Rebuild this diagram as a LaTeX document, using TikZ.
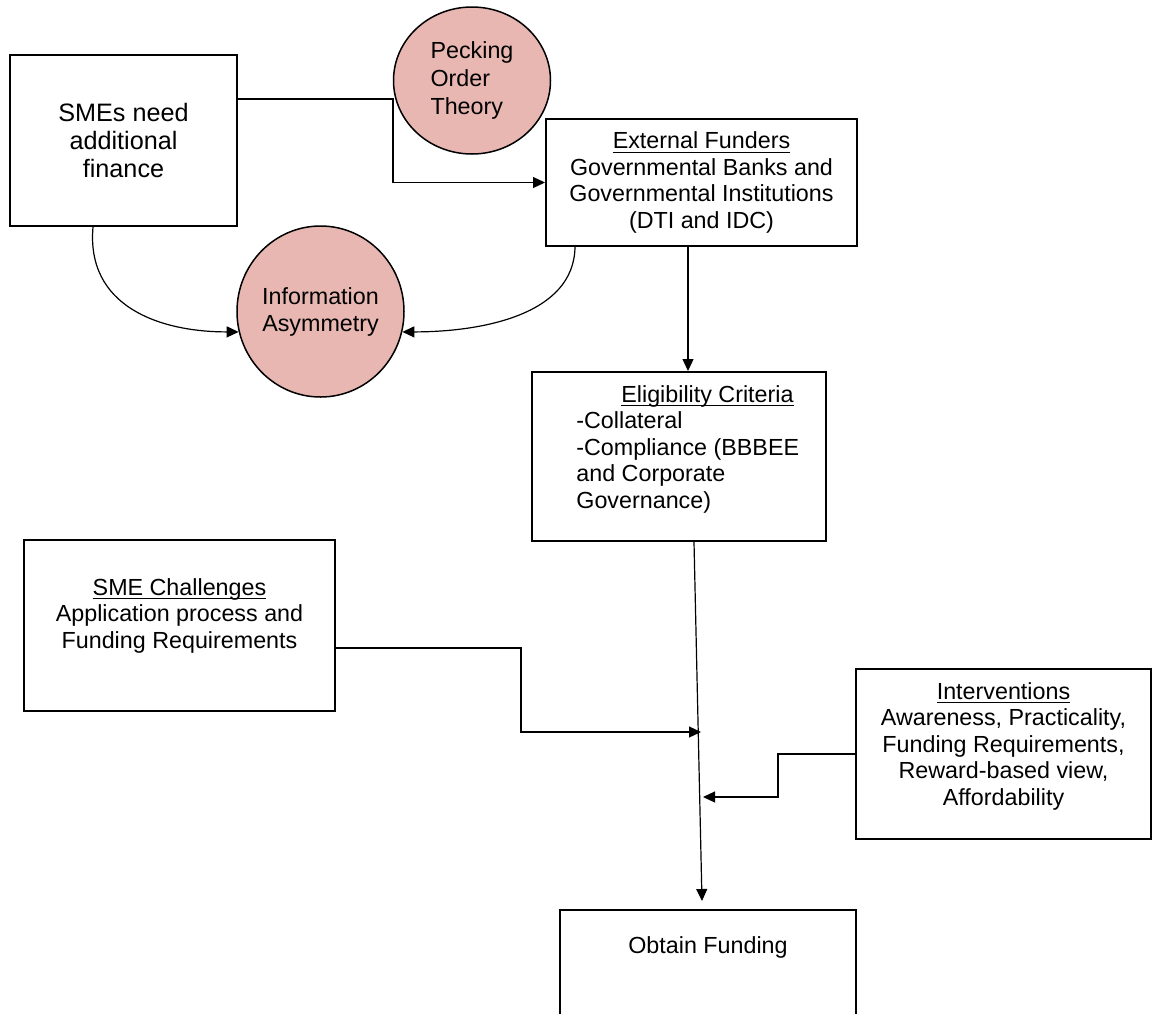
\documentclass[tikz,border=0pt]{standalone}
\usepackage{amsmath}
\usepackage{fontspec}
\setmainfont{Liberation Sans}
\usepackage{tikz}
\usetikzlibrary{positioning}
\usetikzlibrary{shapes.geometric}
\usetikzlibrary{arrows.meta}
\usepackage{xcolor}
\definecolor{theorypink}{RGB}{232,183,178}
\newcommand\undl[1]{\underline{\smash[b]{#1}}}

\begin{document}
\begin{tikzpicture}[x=0.5pt, y=-0.5pt,
	box/.style={draw=black, line width=1pt, rectangle, inner sep=0pt},
	theory/.style={draw=black, line width=0.75pt, ellipse, fill=theorypink, inner sep=0pt, font=\fontsize{11.65pt}{14pt}\selectfont},
	boxtext/.style={inner sep=0pt, align=center, font=\fontsize{11.65pt}{13.25pt}\selectfont},
	conn/.style={black, line width=0.6pt, -{Triangle[length=6pt, width=5.5pt]}}]
				\useasboundingbox (0,0) rectangle (1152,1013);
				\node[box, minimum width=113.5pt, minimum height=85.5pt, align=center, font=\fontsize{12.6pt}{14pt}\selectfont] (smes) at (123.5,140.5) {SMEs need\\additional\\finance};
				\node[theory, minimum width=78.5pt, minimum height=73.5pt, align=left] (pecking) at (472,80.5) {Pecking\\Order\\Theory};
				\node[box, boxtext, draw, line width=1pt, minimum width=155.5pt, minimum height=63.5pt] (ext) at (701.5,182.5) {\undl{External Funders}\\Governmental Banks and\\Governmental Institutions\\(DTI and IDC)};
				\node[theory, minimum width=83.5pt, minimum height=85.5pt, align=center, font=\fontsize{11.65pt}{13.5pt}\selectfont] (info) at (320.5,311.5) {Information\\Asymmetry};
				\node[box, minimum width=147pt, minimum height=84.5pt] (elig) at (679,456.5) {};
				\node[boxtext, align=left, below right=7pt and 22.5pt of elig.north west] (elig-txt) {\hspace*{22.5pt}\undl{Eligibility Criteria}\\-Collateral\\-Compliance (BBBEE\\and Corporate\\Governance)};
				\node[box, minimum width=155.5pt, minimum height=85.5pt] (chall) at (179.5,625.5) {};
				\node[boxtext, below=19.5pt of chall.north] (chall-txt) {\undl{SME Challenges}\\Application process and\\Funding Requirements};
				\node[box, minimum width=147.5pt, minimum height=85pt] (interv) at (1003.5,754) {};
				\node[boxtext, below=7pt of interv.north] (interv-txt) {\undl{Interventions}\\Awareness, Practicality,\\Funding Requirements,\\Reward-based view,\\Affordability};
				\node[box, minimum width=148pt, minimum height=85pt] (obtain) at (708,995) {};
				\node[boxtext, below=13.5pt of obtain.north] (obtain-txt) {Obtain Funding};
				\coordinate (join1) at (701,732);
				\coordinate (join2) at (703,797);
				\draw[conn] ([yshift=20.75pt]smes.east) -- ++(155,0) |- (ext.west);
				\draw[conn] ([xshift=-15.25pt]smes.south) .. controls +(-7,79) and +(-80,0) .. (info.194);
				\draw[conn] ([xshift=-63.25pt]ext.south) .. controls +(-1,68) and +(79,0) .. (info.346);
				\draw[conn] ([xshift=-6.75pt]ext.south) -- ([xshift=4.5pt]elig.north);
				\draw[conn] ([xshift=7.5pt]elig.south) -- ([xshift=-3pt,yshift=4pt]obtain.north);
				\draw[conn] ([yshift=-11.25pt]chall.east) -- ++(185,0) |- (join1);
				\draw[conn] (interv.west) -- ++(-77,0) |- (join2);
			\end{tikzpicture}
\end{document}
